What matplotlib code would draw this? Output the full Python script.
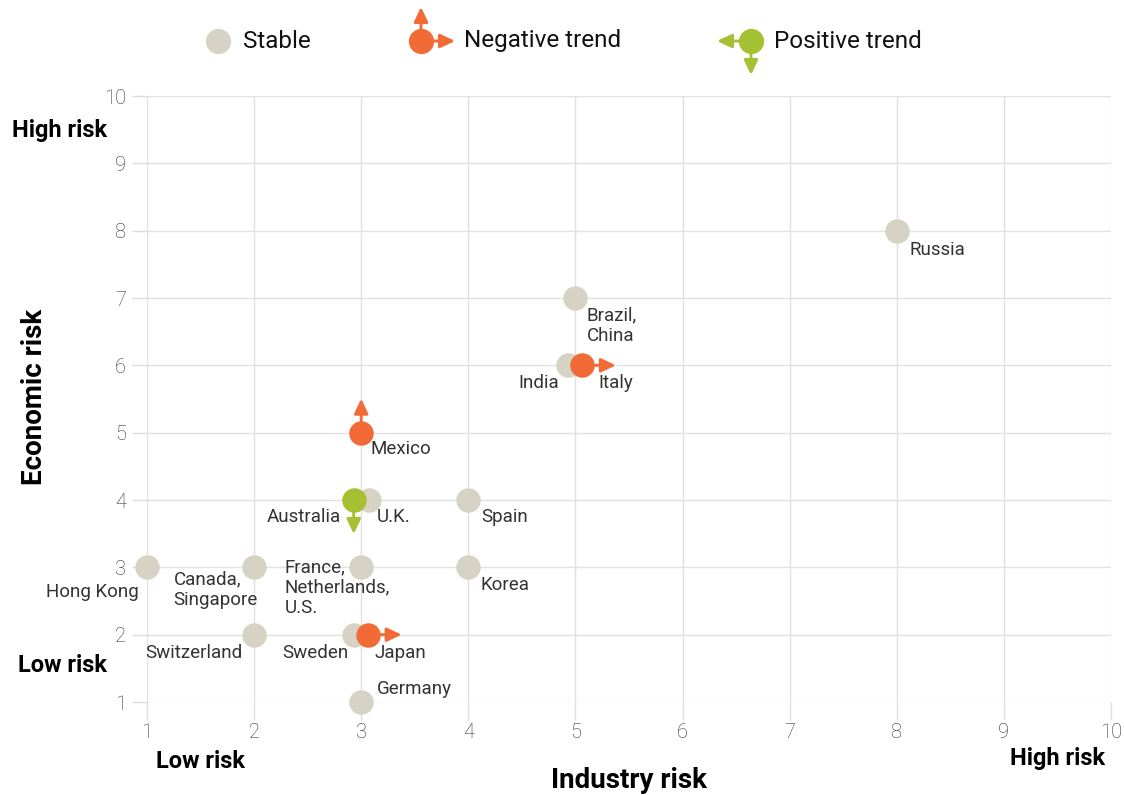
import matplotlib
matplotlib.use("Agg")
import matplotlib.pyplot as plt
from matplotlib.text import OffsetFrom

plt.rcParams['font.family'] = ['Roboto', 'DejaVu Sans']

# ---------------- data ----------------
countries = ["Russia", "Brazil,\nChina", "India", "Italy", "Mexico", "Australia", "U.K.",
             "Spain", "Hong Kong", "Canada,\nSingapore", "France,\nNetherlands,\nU.S.",
             "Korea", "Switzerland", "Sweden", "Japan", "Germany"]
industry_risk = [8, 5, 4.93, 5.06, 3, 2.93, 3.07, 4, 1, 2, 3, 4, 2, 2.93, 3.06, 3]
economic_risk = [8, 7, 6, 6, 5, 4, 4, 4, 3, 3, 3, 3, 2, 2, 2, 1]
trend = ["stable", "stable", "stable", "negative", "negative", "positive", "stable",
         "stable", "stable", "stable", "stable", "stable", "stable", "stable", "negative", "stable"]
# arrow directions for trend points
arrow_dir = {"Italy": "right", "Mexico": "up", "Australia": "down", "Japan": "right"}

x_ticks = [1, 2, 3, 4, 5, 6, 7, 8, 9, 10]
y_ticks = [1, 2, 3, 4, 5, 6, 7, 8, 9, 10]

# ---------------- style ----------------
C_STABLE = "#d6d3c5"
C_NEG = "#f26a36"
C_POS = "#a6c033"
colors = {"stable": C_STABLE, "negative": C_NEG, "positive": C_POS}
TXT = "#333333"

# label placement: (dx, dy in points, ha)
label_pos = {
    "Russia": (9, -14, "left"),
    "Brazil,\nChina": (8, -20, "left"),
    "India": (-6, -13, "right"),
    "Italy": (12, -13, "left"),
    "Mexico": (7, -12, "left"),
    "Australia": (-9, -12, "right"),
    "U.K.": (6, -12, "left"),
    "Spain": (9, -12, "left"),
    "Hong Kong": (-6, -18, "right"),
    "Canada,\nSingapore": (-58, -16, "left"),
    "France,\nNetherlands,\nU.S.": (-55, -14.5, "left"),
    "Korea": (9, -13, "left"),
    "Switzerland": (-8, -13, "right"),
    "Sweden": (-4, -13, "right"),
    "Japan": (5, -13, "left"),
    "Germany": (11, 9, "left"),
}

fig = plt.figure(figsize=(11.24, 7.95), dpi=100)
ax = fig.add_axes([147 / 1124, 1 - 702 / 795, (1111 - 147) / 1124, (702 - 96) / 795])
ax.set_xlim(1, 10)
ax.set_ylim(1, 10)
for s in ax.spines.values():
    s.set_visible(False)
ax.set_xticks(x_ticks)
ax.set_yticks(y_ticks)
ax.grid(True, color="#e1e1e1", lw=1)
ax.set_axisbelow(True)
ax.tick_params(axis="both", colors="#dddddd", labelcolor="#333333", labelsize=14.5, width=1)
ax.tick_params(axis="y", length=11, pad=4)
ax.tick_params(axis="x", length=13, pad=2)
for lab in ax.get_xticklabels() + ax.get_yticklabels():
    lab.set_fontweight("light")

ARROW_LEN = 24.5  # points
vec = {"right": (ARROW_LEN, 0), "left": (-ARROW_LEN, 0), "up": (0, ARROW_LEN), "down": (0, -ARROW_LEN)}


def draw_arrow(axis, x, y, direction, color, transform):
    dx, dy = vec[direction]
    axis.annotate("", xy=(dx, dy), xycoords=OffsetFrom(transform, (x, y), unit="points"),
                  xytext=(x, y), textcoords=transform,
                  arrowprops=dict(arrowstyle="-|>,head_length=0.55,head_width=0.26",
                                  color=color, lw=2.1, shrinkA=0, shrinkB=0,
                                  mutation_scale=16),
                  zorder=3, annotation_clip=False)


# stable points first, then trend points on top
for name, xv, yv, t in zip(countries, industry_risk, economic_risk, trend):
    z = 4 if t == "stable" else 6
    ax.scatter([xv], [yv], s=310, color=colors[t], zorder=z, clip_on=False, linewidths=0)
    if name in arrow_dir:
        draw_arrow(ax, xv, yv, arrow_dir[name], colors[t], ax.transData)
    dx, dy, ha = label_pos[name]
    ax.annotate(name, xy=(xv, yv), xytext=(dx, dy), textcoords="offset points",
                ha=ha, va="center", fontsize=13.5, color=TXT, fontweight="normal",
                linespacing=1.17, zorder=7, annotation_clip=False)

# axis titles and risk annotations
bold = dict(fontweight="bold", color="black")
fig.text(629 / 1124, 1 - 780 / 795, "Industry risk", ha="center", va="center", fontsize=20, **bold)
fig.text(35 / 1124, 1 - 397 / 795, "Economic risk", ha="center", va="center", fontsize=20,
         rotation=90, **bold)
fig.text(60 / 1124, 1 - 131 / 795, "High risk", ha="center", va="center", fontsize=17, **bold)
fig.text(63 / 1124, 1 - 666 / 795, "Low risk", ha="center", va="center", fontsize=17, **bold)
fig.text(200 / 1124, 1 - 762 / 795, "Low risk", ha="center", va="center", fontsize=17, **bold)
fig.text(1058 / 1124, 1 - 758 / 795, "High risk", ha="center", va="center", fontsize=17, **bold)

# ---------------- legend ----------------
lax = fig.add_axes([0, 1 - 80 / 795, 1, 80 / 795])
lax.set_xlim(0, 1124)
lax.set_ylim(80, 0)
lax.axis("off")
legend_items = [("Stable", "stable", [], 218, 25), ("Negative trend", "negative", ["up", "right"], 421, 43),
                ("Positive trend", "positive", ["left", "down"], 751, 23)]
LEG_Y = 41
for label, t, dirs, lx, toff in legend_items:
    for d in dirs:
        draw_arrow(lax, lx, LEG_Y, d, colors[t], lax.transData)
    lax.scatter([lx], [LEG_Y], s=330, color=colors[t], zorder=6, linewidths=0, clip_on=False)
    lax.text(lx + toff, LEG_Y, label, ha="left", va="center", fontsize=17.5, color="#111111")

fig.savefig("out.png", dpi=100)
